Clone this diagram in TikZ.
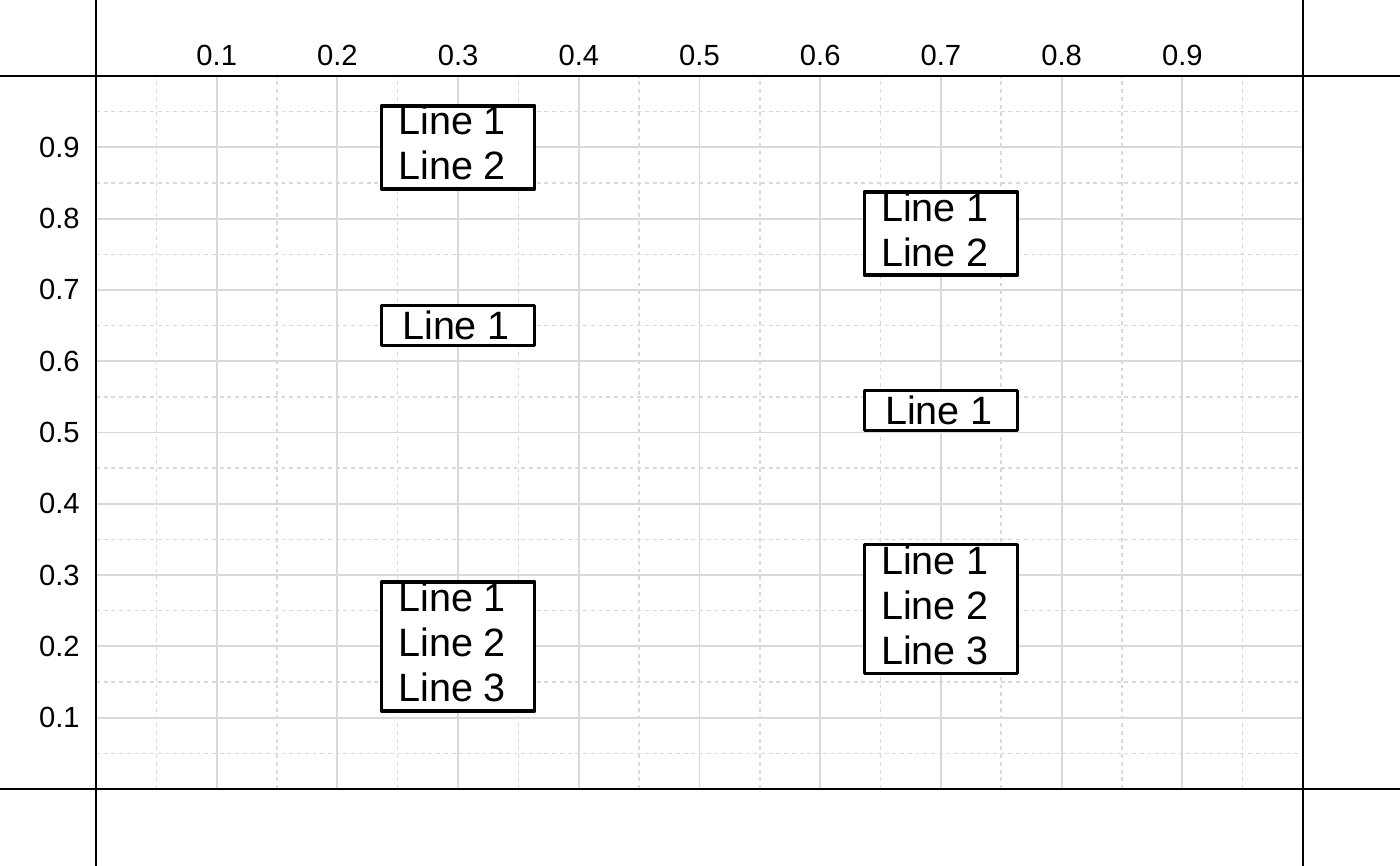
\documentclass[tikz,border=0pt]{standalone}
\usepackage{fontspec}
\setmainfont{Liberation Sans}
\usetikzlibrary{positioning}
\tikzset{
	axis_line/.style = {
		draw=black,
		line width=0.85pt
	},
	grid_major/.style = {
		draw=black!15,
		line width=1.1pt
	},
	grid_minor/.style = {
		draw=black!15,
		line width=0.85pt,
		dash pattern=on 2.2pt off 2.2pt
	},
	tick_label/.style = {
		inner sep=0pt,
		font=\fontsize{16.6}{19}\selectfont
	},
	text_box/.style = {
		rectangle,
		draw=black,
		fill=white,
		line width=2.1pt,
		line join=round,
		inner sep=0pt,
		minimum width=3.06cm,
		minimum height=#1
	},
	box_text/.style = {
		align=left,
		inner sep=0pt,
		font=\fontsize{22.5}{25.6}\selectfont
	},
	box_text_multi/.style = {
		box_text,
		xshift=-0.12cm,
		yshift=0.08cm
	},
	box_text_single/.style = {
		box_text,
		xshift=-0.04cm
	},
}

\begin{document}
\begin{tikzpicture}[x=24.14cm, y=14.26cm]
\useasboundingbox (-0.07954,-0.108) rectangle (1.08036,1.10659);
% grid
\foreach \v in {0.05,0.15,...,0.96} {
	\draw [grid_minor] (\v,0) -- (\v,1);
	\draw [grid_minor] (0,\v) -- (1,\v);
}
\foreach \v in {1,...,9} {
	\draw [grid_major] (\v/10,0) -- (\v/10,1);
	\draw [grid_major] (0,\v/10) -- (1,\v/10);
}
% axes
\draw [axis_line] (0,-0.108) -- (0,1.10659);
\draw [axis_line] (1,-0.108) -- (1,1.10659);
\draw [axis_line] (-0.07954,0) -- (1.08036,0);
\draw [axis_line] (-0.07954,1) -- (1.08036,1);
\foreach \v in {1,...,9} {
	\node [tick_label, yshift=0.42cm] (xtick\v) at (\v/10,1) {0.\v};
	\node [tick_label, anchor=east, xshift=-0.32cm] (ytick\v) at (0,\v/10) {0.\v};
}
% boxes
\node [text_box=1.66cm, path picture={
	\node [box_text_multi] (a_text) at (path picture bounding box.center) {Line 1\\Line 2};
}] (a) at (0.3,0.9) {};
\node [text_box=0.8cm, path picture={
	\node [box_text_single] (b_text) at (path picture bounding box.center) {Line 1};
}] (b) at (0.3,0.65) {};
\node [text_box=2.58cm, path picture={
	\node [box_text_multi] (c_text) at (path picture bounding box.center) {Line 1\\Line 2\\Line 3};
}] (c) at (0.3,0.2) {};
\node [text_box=1.66cm, path picture={
	\node [box_text_multi] (d_text) at (path picture bounding box.center) {Line 1\\Line 2};
}] (d) at (0.7,0.779) {};
\node [text_box=0.8cm, path picture={
	\node [box_text_single] (e_text) at (path picture bounding box.center) {Line 1};
}] (e) at (0.7,0.531) {};
\node [text_box=2.58cm, path picture={
	\node [box_text_multi] (f_text) at (path picture bounding box.center) {Line 1\\Line 2\\Line 3};
}] (f) at (0.7,0.2525) {};
\end{tikzpicture}
\end{document}
